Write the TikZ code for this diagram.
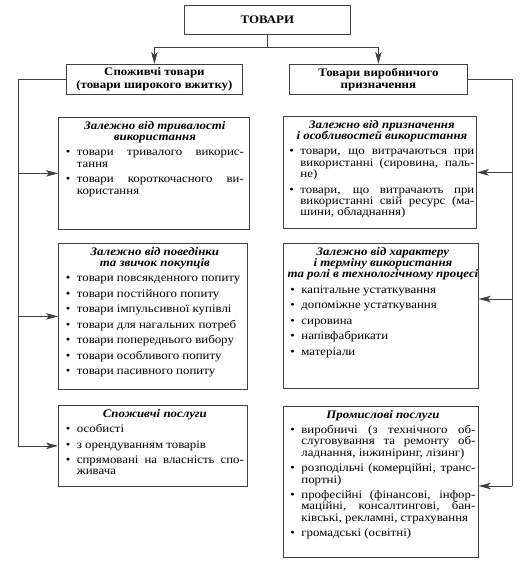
\documentclass[tikz,border=0pt]{standalone}
\usepackage{fontspec}
\setmainfont{Liberation Serif}[FakeStretch=1.12]
\usetikzlibrary{arrows.meta}
\newcommand{\itm}[1]{\par\noindent\hangindent=11pt\hangafter=1\makebox[11pt][l]{\textbullet}#1\par}
\newcommand{\ttl}[1]{{\centering\bfseries\itshape #1\par}}
\tikzset{
  ln/.style={draw=black!75, line width=0.8pt},
  arr/.style={ln, -{Stealth[length=12pt,width=6.5pt,inset=3pt]}},
  box/.style={ln, rectangle, inner sep=0pt, anchor=north west},
  hbox/.style={box, font=\bfseries\fontsize{11.5}{12.5}\selectfont, align=center},
  txt/.style={inner sep=0pt, anchor=north, align=justify, font=\fontsize{11.5}{11.3}\selectfont,
    execute at begin node={\setlength{\parskip}{4.2pt}\hyphenpenalty=10000\tolerance=9999\emergencystretch=2pt}},
}
\begin{document}
\begin{tikzpicture}[x=1pt,y=-1pt]
\useasboundingbox (0,0) rectangle (528,572);
% top
\node[hbox, minimum width=166pt, minimum height=29pt] (top) at (184,5) {ТОВАРИ};
\node[hbox, minimum width=176pt, minimum height=30pt] (hl) at (66,64) {Споживчі товари\\(товари широкого вжитку)};
\node[hbox, minimum width=178pt, minimum height=30pt] (hr) at (289,64) {Товари виробничого\\призначення};
% left boxes
\node[box, minimum width=191pt, minimum height=112pt] (lb1) at (58,117) {};
\node[box, minimum width=189pt, minimum height=146pt] (lb2) at (58,243) {};
\node[box, minimum width=189pt, minimum height=81pt] (lb3) at (58,405) {};
% right boxes
\node[box, minimum width=193pt, minimum height=112pt] (rb1) at (283,116) {};
\node[box, minimum width=195pt, minimum height=145pt] (rb2) at (283,243) {};
\node[box, minimum width=195pt, minimum height=151pt] (rb3) at (283,406) {};
% contents
\node[txt, text width=178pt] (lb1t) at ([xshift=1pt,yshift=-4pt]lb1.north) {%
\ttl{Залежно від тривалості\\використання}
\itm{товари тривалого викорис-\linebreak тання}
\itm{товари короткочасного ви-\linebreak користання}};
\node[txt, text width=178pt] (lb2t) at ([xshift=2pt,yshift=-4pt]lb2.north) {%
\ttl{Залежно від поведінки\\та звичок покупців}
\itm{товари повсякденного попиту}
\itm{товари постійного попиту}
\itm{товари імпульсивної купівлі}
\itm{товари для нагальних потреб}
\itm{товари попереднього вибору}
\itm{товари особливого попиту}
\itm{товари пасивного попиту}};
\node[txt, text width=178pt] (lb3t) at ([xshift=2pt,yshift=-4pt]lb3.north) {%
\ttl{Споживчі послуги}
\itm{особисті}
\itm{з орендуванням товарів}
\itm{спрямовані на власність спо-\linebreak живача}};
\node[txt, text width=185pt] (rb1t) at ([xshift=2pt,yshift=-4pt]rb1.north) {%
\ttl{Залежно від призначення\\і особливостей використання}
\itm{товари, що витрачаються при\linebreak використанні (сировина, паль-\linebreak не)}
\itm{товари, що витрачають при\linebreak використанні свій ресурс (ма-\linebreak шини, обладнання)}};
\node[txt, text width=185pt] (rb2t) at ([xshift=2pt,yshift=-4pt]rb2.north) {%
\ttl{Залежно від характеру\\і терміну використання\\\makebox[\linewidth][c]{та ролі в технологічному процесі}}
\itm{капітальне устаткування}
\itm{допоміжне устаткування}
\itm{сировина}
\itm{напівфабрикати}
\itm{матеріали}};
\node[txt, text width=185pt] (rb3t) at ([xshift=2pt,yshift=-4pt]rb3.north) {%
\ttl{Промислові послуги}
\itm{виробничі (з технічного об-\linebreak слуговування та ремонту об-\linebreak ладнання, інжиніринг, лізинг)}
\itm{розподільчі (комерційні, транс-\linebreak портні)}
\itm{професійні (фінансові, інфор-\linebreak маційні, консалтингові, бан-\linebreak ківські, рекламні, страхування}
\itm{громадські (освітні)}};
% connectors top
\draw[ln] (top.south) -- ++(0,13) coordinate (J);
\draw[arr] (J) -| (hl.north);
\draw[arr] (J) -| (hr.north);
% left spine
\coordinate (L) at (18,445);
\draw[ln] (hl.west) -| (L);
\draw[arr] (L |- lb1.west) -- (lb1.west);
\draw[arr] (L |- lb2.west) -- (lb2.west);
\draw[arr] (L) -- (lb3.west -| L) -- (lb3.west);
% right spine
\coordinate (R) at (512,486);
\coordinate (R2) at (512,299);
\draw[ln] (hr.east) -| (R);
\draw[arr] (R |- rb1.east) -- (rb1.east);
\draw[arr] (R2) -- (rb2.east |- R2);
\draw[arr] (R) -- (rb3.east |- R);
\end{tikzpicture}
\end{document}
